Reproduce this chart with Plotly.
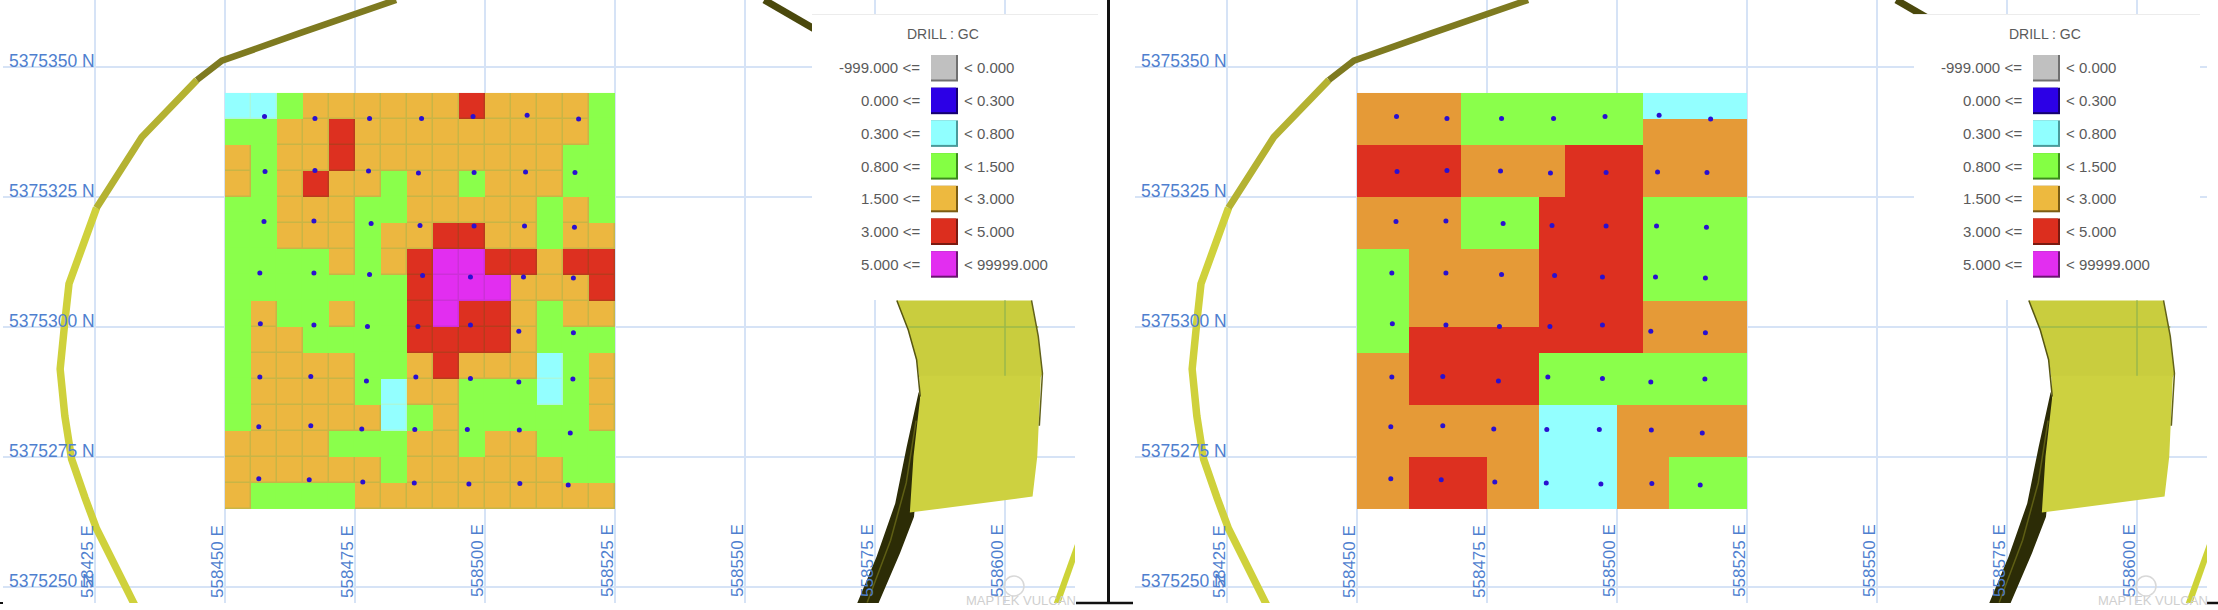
import plotly.graph_objects as go

W, H = 2218, 610

# block model classes, one string per row from north to south, 5 m cells
CLASS_CODES = {"C": 2, "G": 3, "O": 4, "R": 5, "M": 6}
BLOCKS_LEFT = [
    "CCGOOOOOOROOOOG",
    "GGOOROOOOOOOOOG",
    "OGOOROOOOOOOOGG",
    "OGOROOGOOGOOOGG",
    "GGOOOGGOOOOOGOG",
    "GGOOOGOORROOGOO",
    "GGGGOGORMMRRORR",
    "GGGGGGGRMMMOOOR",
    "GOGGOGGRMRROGOO",
    "GOOGGGGRRRROGGG",
    "GOOOOGGOROOOCGO",
    "GOOOOGCOOGGGCGO",
    "GOOOOOCGOGGGGGO",
    "OOOOGGGOOGOOGGG",
    "OOOOOOGOOOOOOGG",
    "OGGGGOOOOOOOOOO",
]
BLOCKS_RIGHT = [
    "OOOOGGGGGGGCCCC",
    "OOOOGGGGGGGOOOO",
    "RRRROOOORRROOOO",
    "RRRROOOORRROOOO",
    "OOOOGGGRRRRGGGG",
    "OOOOGGGRRRRGGGG",
    "GGOOOOORRRRGGGG",
    "GGOOOOORRRRGGGG",
    "GGOOOOORRRROOOO",
    "GGRRRRRRRRROOOO",
    "OORRRRRGGGGGGGG",
    "OORRRRRGGGGGGGG",
    "OOOOOOOCCCOOOOO",
    "OOOOOOOCCCOOOOO",
    "OORRROOCCCOOGGG",
    "OORRROOCCCOOGGG",
]

# drill hole collars
DRILL_E = [
    558457.6, 558467.3, 558477.8, 558487.8, 558497.7, 558508.1, 558518.0,
    558457.7, 558467.3, 558477.6, 558487.2, 558497.9, 558507.8, 558517.3,
    558457.5, 558467.1, 558478.1, 558487.5, 558497.9, 558507.6, 558517.2,
    558456.7, 558467.1, 558477.8, 558488.0, 558497.2, 558507.4, 558517.0,
    558456.8, 558467.1, 558477.4, 558487.1, 558497.2, 558506.5, 558517.0,
    558456.7, 558466.5, 558477.2, 558486.7, 558497.2, 558506.5, 558516.9,
    558456.5, 558466.5, 558476.3, 558486.5, 558496.6, 558506.6, 558516.4,
    558456.5, 558466.2, 558476.5, 558486.4, 558496.9, 558506.7, 558516.0,
]
DRILL_N = [
    5375340.5, 5375340.1, 5375340.1, 5375340.1, 5375340.5, 5375340.7, 5375340.0,
    5375329.9, 5375330.1, 5375330.0, 5375329.6, 5375329.7, 5375329.8, 5375329.7,
    5375320.3, 5375320.4, 5375319.9, 5375319.5, 5375319.4, 5375319.4, 5375319.2,
    5375310.4, 5375310.4, 5375310.1, 5375309.9, 5375309.6, 5375309.6, 5375309.4,
    5375300.6, 5375300.4, 5375300.1, 5375300.1, 5375300.4, 5375299.2, 5375298.9,
    5375290.4, 5375290.5, 5375289.6, 5375290.4, 5375290.1, 5375289.4, 5375290.0,
    5375280.8, 5375281.0, 5375280.4, 5375280.3, 5375280.3, 5375280.2, 5375279.6,
    5375270.8, 5375270.6, 5375270.2, 5375270.0, 5375269.8, 5375269.9, 5375269.6,
]

# pit outline
PIT_E = [558433.6, 558425.3, 558423.1, 558420.5, 558419.2, 558418.3, 558419.2, 558420.0, 558425.3]
PIT_N = [5375244.6, 5375261.2, 5375267.1, 5375274.6, 5375282.9, 5375291.9, 5375301.0, 5375308.3, 5375322.9]
PIT_MID_E = [558425.3, 558434.0, 558444.6]
PIT_MID_N = [5375322.9, 5375336.5, 5375347.5]
PIT_TOP_E = [558444.6, 558449.4, 558464.4, 558482.9]
PIT_TOP_N = [5375347.5, 5375351.2, 5375356.5, 5375362.9]
PIT_FAR_E = [558553.7, 558566.3]
PIT_FAR_N = [5375362.9, 5375355.6]

# yellow surface on the east side
SURF_UP_E = [558579.2, 558581.4, 558583.0, 558583.5, 558606.9, 558607.2, 558606.4, 558605.1]
SURF_UP_N = [5375305.1, 5375299.4, 5375293.7, 5375290.4, 5375290.4, 5375291.1, 5375298.2, 5375305.1]
SURF_LOW_E = [558583.5, 558583.7, 558582.4, 558581.7, 558605.3, 558606.2, 558606.9]
SURF_LOW_N = [5375290.6, 5375286.6, 5375275.1, 5375264.3, 5375267.4, 5375275.1, 5375290.6]
BAND_E = [558583.4, 558581.1, 558578.9, 558575.3, 558571.5, 558575.6, 558579.8, 558582.5, 558583.5, 558583.7]
BAND_N = [5375287.5, 5375277.0, 5375266.1, 5375255.8, 5375246.7, 5375246.7, 5375256.5, 5375263.5, 5375275.1, 5375286.6]
STREAK_E = [558582.9, 558581.0, 558578.0, 558573.5]
STREAK_N = [5375282.0, 5375270.0, 5375259.0, 5375247.0]
SLIVER_E = [558613.5, 558613.5, 558610.6, 558609.3]
SLIVER_N = [5375258.4, 5375254.9, 5375246.7, 5375246.7]
EDGE_L_E = [558579.2, 558581.4, 558583.0, 558583.7]
EDGE_L_N = [5375305.1, 5375299.4, 5375293.7, 5375286.6]
EDGE_R_E = [558605.1, 558606.4, 558607.2, 558606.6]
EDGE_R_N = [5375305.1, 5375298.2, 5375291.1, 5375281.0]

EASTINGS = [558425, 558450, 558475, 558500, 558525, 558550, 558575, 558600]
NORTHINGS = [5375350, 5375325, 5375300, 5375275, 5375250]

LEGEND_LOW = ["-999.000", "0.000", "0.300", "0.800", "1.500", "3.000", "5.000"]
LEGEND_HIGH = ["0.000", "0.300", "0.800", "1.500", "3.000", "5.000", "99999.000"]
LEGEND_COLORS = ["#c0c0c0", "#2c00e6", "#90ffff", "#84ff44", "#edb93f", "#dc2e1e", "#e22ef0"]
LEGEND_EDGES = ["#707070", "#15006e", "#4a9a9a", "#3c8a1c", "#7a5c14", "#7a1a10", "#6a1470"]

LEFT_FILL = ["#c0c0c0", "#2c00e6", "#93ffff", "#8aff4b", "#ecb740", "#dd3020", "#e22ef0"]
LEFT_CELL_EDGE = ["#c0c0c0", "#2c00e6", "#a8f8dc", "#8aff4b", "#c8b545", "#b83a1c", "#cc30d8"]
RIGHT_FILL = ["#c0c0c0", "#2c00e6", "#93ffff", "#8aff4b", "#e59a37", "#dd3020", "#e22ef0"]

GRID = "#d6e3f6"
LABEL = "#4f7fcf"
TEXT = "#5a5a5a"


def to_codes(rows):
    return [[CLASS_CODES[c] for c in row] for row in rows]


def stepped(colors):
    n = len(colors)
    scale = []
    for i, c in enumerate(colors):
        scale += [[i / n, c], [(i + 1) / n, c]]
    return scale


def px_x(v):
    return v / W


def px_y(v):
    return 1 - v / H


def blocks(z, colors, xa, ya, gap=0):
    return go.Heatmap(z=z, x0=558452.5, dx=5, y0=5375342.5, dy=-5, zmin=-0.5, zmax=6.5,
                      colorscale=stepped(colors), showscale=False, xgap=gap, ygap=gap,
                      hoverinfo="skip", xaxis=xa, yaxis=ya)


def line(x, y, color, width, xa, ya):
    return go.Scatter(x=x, y=y, mode="lines", line=dict(color=color, width=width),
                      hoverinfo="skip", showlegend=False, xaxis=xa, yaxis=ya)


def area(x, y, color, xa, ya):
    return go.Scatter(x=x, y=y, mode="lines", fill="toself", fillcolor=color, line=dict(width=0),
                      hoverinfo="skip", showlegend=False, xaxis=xa, yaxis=ya)


fig = go.Figure()

for xa, ya, rows, fill, edge in [("x", "y", BLOCKS_LEFT, LEFT_FILL, LEFT_CELL_EDGE),
                                 ("x2", "y2", BLOCKS_RIGHT, RIGHT_FILL, None)]:
    # surface and pit lines under the blocks
    fig.add_trace(area(BAND_E, BAND_N, "#2c2c06", xa, ya))
    fig.add_trace(line(STREAK_E, STREAK_N, "#5e5e14", 1.5, xa, ya))
    fig.add_trace(area(SURF_UP_E, SURF_UP_N, "#c9cd3e", xa, ya))
    fig.add_trace(area(SURF_LOW_E, SURF_LOW_N, "#cdd140", xa, ya))
    fig.add_trace(line([558600, 558600], [5375305.1, 5375290.6], "#9ab84a", 1.5, xa, ya))
    fig.add_trace(line([558581.4, 558606.4], [5375300, 5375300], "#9ab84a", 1.5, xa, ya))
    fig.add_trace(line(EDGE_L_E, EDGE_L_N, "#565610", 1.5, xa, ya))
    fig.add_trace(line(EDGE_R_E, EDGE_R_N, "#62621a", 1.5, xa, ya))
    fig.add_trace(area(SLIVER_E, SLIVER_N, "#cdd338", xa, ya))
    fig.add_trace(line(PIT_E, PIT_N, "#cfd13c", 7.5, xa, ya))
    fig.add_trace(line(PIT_MID_E, PIT_MID_N, "#b4b232", 7, xa, ya))
    fig.add_trace(line(PIT_TOP_E, PIT_TOP_N, "#7e7a20", 6.5, xa, ya))
    fig.add_trace(line(PIT_FAR_E, PIT_FAR_N, "#4a480c", 7, xa, ya))

    z = to_codes(rows)
    if edge:
        fig.add_trace(blocks(z, edge, xa, ya))
        fig.add_trace(blocks(z, fill, xa, ya, gap=1.5))
    else:
        fig.add_trace(blocks(z, fill, xa, ya))

    fig.add_trace(go.Scatter(x=DRILL_E, y=DRILL_N, mode="markers",
                             marker=dict(color="#2a10d0", size=5, line=dict(width=0)),
                             hoverinfo="skip", showlegend=False, xaxis=xa, yaxis=ya))

axis_x = dict(range=[558407.31, 558613.46], tick0=558425, dtick=25, showgrid=True, gridcolor=GRID,
              gridwidth=1.5, showticklabels=False, zeroline=False, showline=False, ticks="")
axis_y = dict(range=[5375246.92, 5375362.88], tick0=5375250, dtick=25, showgrid=True, gridcolor=GRID,
              gridwidth=1.5, showticklabels=False, zeroline=False, showline=False, ticks="")

annotations = []
shapes = []

for xref, yref in [("x", "y"), ("x2", "y2")]:
    for n in NORTHINGS:
        annotations.append(dict(x=558425, y=n, xref=xref, yref=yref, text=f"{n} N", showarrow=False,
                                xanchor="right", yanchor="bottom", yshift=-6, xshift=2,
                                font=dict(family="Liberation Sans", size=17.5, color=LABEL)))
    for e in EASTINGS:
        annotations.append(dict(x=e, y=5375255, xref=xref, yref=yref, text=f"{e} E", showarrow=False,
                                textangle=-90, xanchor="center", yanchor="middle", xshift=-7,
                                font=dict(family="Liberation Sans", size=17, color=LABEL)))

for box_left, box_right, swatch_left, mark_x in [(812, 1098, 931, 1021), (1914, 2200, 2033, 2153)]:
    shapes.append(dict(type="rect", xref="paper", yref="paper", layer="above",
                       x0=px_x(box_left), x1=px_x(box_right), y0=px_y(300), y1=px_y(15),
                       fillcolor="white", line=dict(width=0)))
    shapes.append(dict(type="line", xref="paper", yref="paper", layer="above",
                       x0=px_x(box_left), x1=px_x(box_right), y0=px_y(14.5), y1=px_y(14.5),
                       line=dict(color="#ececec", width=1)))
    annotations.append(dict(x=px_x(swatch_left + 12), y=px_y(34), xref="paper", yref="paper",
                            text="DRILL : GC", showarrow=False, xanchor="center", yanchor="middle",
                            font=dict(family="Liberation Sans", size=14, color=TEXT)))
    for i, (low, high) in enumerate(zip(LEGEND_LOW, LEGEND_HIGH)):
        cy = 68 + i * 32.7
        shapes.append(dict(type="rect", xref="paper", yref="paper", layer="above",
                           x0=px_x(swatch_left), x1=px_x(swatch_left + 27), y0=px_y(cy + 13.5), y1=px_y(cy - 13),
                           fillcolor=LEGEND_EDGES[i], line=dict(width=0)))
        shapes.append(dict(type="rect", xref="paper", yref="paper", layer="above",
                           x0=px_x(swatch_left), x1=px_x(swatch_left + 25), y0=px_y(cy + 11.5), y1=px_y(cy - 13),
                           fillcolor=LEGEND_COLORS[i], line=dict(width=0)))
        annotations.append(dict(x=px_x(swatch_left - 9), y=px_y(cy), xref="paper", yref="paper",
                                text=f"{low} <=", showarrow=False, xanchor="right", yanchor="middle",
                                font=dict(family="Liberation Sans", size=15, color=TEXT)))
        annotations.append(dict(x=px_x(swatch_left + 31), y=px_y(cy), xref="paper", yref="paper",
                                text=f"< {high}", showarrow=False, xanchor="left", yanchor="middle",
                                font=dict(family="Liberation Sans", size=15, color=TEXT)))
    # watermark
    annotations.append(dict(x=px_x(mark_x), y=px_y(600), xref="paper", yref="paper", text="MAPTEK VULCAN",
                            showarrow=False, xanchor="center", yanchor="middle",
                            font=dict(family="Liberation Sans", size=13, color="#cfcfcf")))
    shapes.append(dict(type="circle", xref="paper", yref="paper", layer="above",
                       x0=px_x(mark_x - 17), x1=px_x(mark_x + 3), y0=px_y(596), y1=px_y(576),
                       line=dict(color="#d8d8d8", width=1.5)))

# black frame pieces between the two views
for x0, x1, y0, y1, w in [(1108.5, 1108.5, 0, 603, 3), (1076, 1133, 603, 603, 2.5), (2207, 2218, 603, 603, 2.5),
                          (0, 3, 603, 603, 2)]:
    shapes.append(dict(type="line", xref="paper", yref="paper", layer="above",
                       x0=px_x(x0), x1=px_x(x1), y0=px_y(y0), y1=px_y(y1),
                       line=dict(color="#111111", width=w)))

fig.update_layout(
    width=W, height=H, margin=dict(l=0, r=0, t=0, b=0), autosize=False,
    paper_bgcolor="white", plot_bgcolor="white", showlegend=False,
    xaxis=dict(axis_x, domain=[3 / W, 1075 / W], anchor="y"),
    yaxis=dict(axis_y, domain=[1 - 603 / H, 1], anchor="x"),
    xaxis2=dict(axis_x, domain=[1135 / W, 2207 / W], anchor="y2"),
    yaxis2=dict(axis_y, domain=[1 - 603 / H, 1], anchor="x2"),
    annotations=annotations, shapes=shapes,
)

fig.write_html("out.html", config={"displayModeBar": False},
               post_script="document.body.style.margin='0';document.body.style.overflow='hidden';")
